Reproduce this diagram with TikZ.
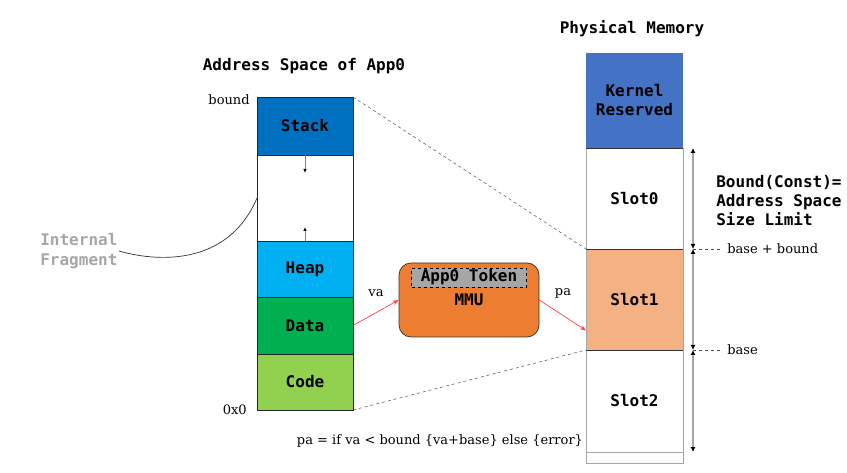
\documentclass[tikz,border=0pt]{standalone}
\usepackage{fontspec}
\setmainfont{DejaVu Serif}
\setmonofont{DejaVu Sans Mono}
\usepackage{tikz}
\usetikzlibrary{arrows.meta, positioning}

\definecolor{stackc}{HTML}{0070C0}
\definecolor{heapc}{HTML}{00B0F0}
\definecolor{datac}{HTML}{00B050}
\definecolor{codec}{HTML}{92D050}
\definecolor{kernc}{HTML}{4472C4}
\definecolor{slotc}{HTML}{F4B183}
\definecolor{mmuc}{HTML}{ED7D31}
\definecolor{tokc}{HTML}{A6A6A6}

\begin{document}
\begin{tikzpicture}[x=1pt, y=-1pt, line width=0.7pt,
    node distance=0pt,
    seg/.style={draw=black!85, fill=#1, minimum width=96pt, outer sep=0pt, inner sep=0pt,
        font=\ttfamily\bfseries\fontsize{16}{19}\selectfont},
    slot/.style={draw=gray!70, fill=#1, minimum width=97pt, outer sep=0pt, inner sep=0pt, align=center,
        font=\ttfamily\bfseries\fontsize{16}{19}\selectfont},
    title/.style={font=\ttfamily\bfseries\fontsize{16}{19}\selectfont},
    lbl/.style={font=\fontsize{13}{16}\selectfont, inner sep=1pt},
    mmu/.style={draw=gray!40!black, fill=mmuc, rounded corners=12pt, minimum width=140pt, minimum height=74pt,
        font=\ttfamily\bfseries\fontsize{16}{19}\selectfont},
    token/.style={draw=black, dashed, fill=tokc, minimum width=115pt, minimum height=19pt, inner sep=0pt,
        font=\ttfamily\bfseries\fontsize{16}{19}\selectfont},
    va/.style={draw=red!75, -{Stealth[length=6pt, width=4.5pt]}},
    growarrow/.style={draw=gray, line width=1pt, -{Latex[black, length=4pt, width=3.5pt]}},
    measure/.style={draw=gray!70, line width=1.2pt, {Latex[black, length=5pt, width=5pt]}-{Latex[black, length=5pt, width=5pt]}},
    guide/.style={dashed, black!70, line width=0.5pt}
]
    \useasboundingbox (0,0) rectangle (847,473);

    % Address space of App0
    \node[title] (astitle) at (304,66) {Address Space of App0};
    \node[seg=stackc, minimum height=58pt, anchor=north west] (stack) at (257,97) {Stack};
    \node[seg=white, minimum height=86pt, below=of stack] (gap) {};
    \node[seg=heapc, minimum height=56pt, below=of gap] (heap) {Heap};
    \node[seg=datac, minimum height=57pt, below=of heap] (data) {Data};
    \node[seg=codec, minimum height=56pt, below=of data] (code) {Code};
    \node[lbl, anchor=east] (bound) at ([xshift=-6pt, yshift=-3pt]stack.north west) {bound};
    \node[lbl, anchor=east] (zero) at ([xshift=-9pt]code.south west) {0x0};

    % Growth arrows
    \coordinate (sdown) at ([yshift=-18pt]stack.south);
    \coordinate (hup) at ([yshift=14pt]heap.north);
    \draw[growarrow] (stack.south) -- (sdown);
    \draw[growarrow] (heap.north) -- (hup);

    % Internal fragment
    \node[title, text=tokc, align=left, anchor=west, inner sep=1pt] (frag) at (39,251) {Internal\\[1pt]Fragment};
    \draw[black!80] (frag.east) .. controls (165,264) and (230,262) .. (gap.west);

    % MMU
    \node[mmu] (mmu) at (469,300) {\raisebox{-2pt}{MMU}};
    \node[token, below=5pt of mmu.north] (tok) {App0 Token};

    % Physical memory
    \node[title] (pmtitle) at (632,29) {Physical Memory};
    \node[slot=kernc, draw=none, minimum height=95pt, anchor=north west] (kern) at (586,53) {Kernel\\Reserved};
    \node[slot=white, minimum height=101pt, below=of kern] (slot0) {Slot0};
    \node[slot=slotc, minimum height=101pt, below=of slot0] (slot1) {Slot1};
    \node[slot=white, minimum height=102pt, below=of slot1] (slot2) {Slot2};
    \node[slot=white, minimum height=11pt, below=of slot2] (tail) {};
    \draw[black!80] (slot0.north west) -- (slot0.north east);
    \draw[black!80] (slot1.north west) -- (slot1.north east);
    \draw[black!80] (slot1.south west) -- (slot1.south east);

    % Mapping
    \draw[guide] (stack.north east) -- (slot1.north west);
    \draw[guide] (code.south east) -- (slot1.south west);
    \draw[va] (data.east) -- (mmu.west);
    \draw[va] (mmu.east) -- ([yshift=-31pt]slot1.west);
    \node[lbl] (valbl) at (376,293) {va};
    \node[lbl] (palbl) at (563,293) {pa};

    % Bound measure
    \coordinate (m0) at ([xshift=10pt]slot0.north east);
    \coordinate (m1) at ([xshift=10pt]slot1.north east);
    \coordinate (m2) at ([xshift=10pt]slot1.south east);
    \coordinate (m3) at ([xshift=10pt]slot2.south east);
    \draw[measure] (m0) -- (m1);
    \draw[measure] (m1) -- (m2);
    \draw[measure] (m2) -- (m3);
    \coordinate (d1) at ([xshift=27pt]m1);
    \coordinate (d2) at ([xshift=27pt]m2);
    \draw[guide] (m1) -- (d1);
    \draw[guide] (m2) -- (d2);
    \node[lbl, anchor=west] (bb) at ([xshift=6pt]d1) {base + bound};
    \node[lbl, anchor=west] (bs) at ([xshift=6pt]d2) {base};
    \node[title, align=left, anchor=west, inner sep=1pt] (constlbl) at (715,201) {Bound(Const)=\\Address Space\\Size Limit};

    % Formula
    \node[lbl] (formula) at (440,441) {pa = if va < bound \{va+base\} else \{error\}};
\end{tikzpicture}
\end{document}
